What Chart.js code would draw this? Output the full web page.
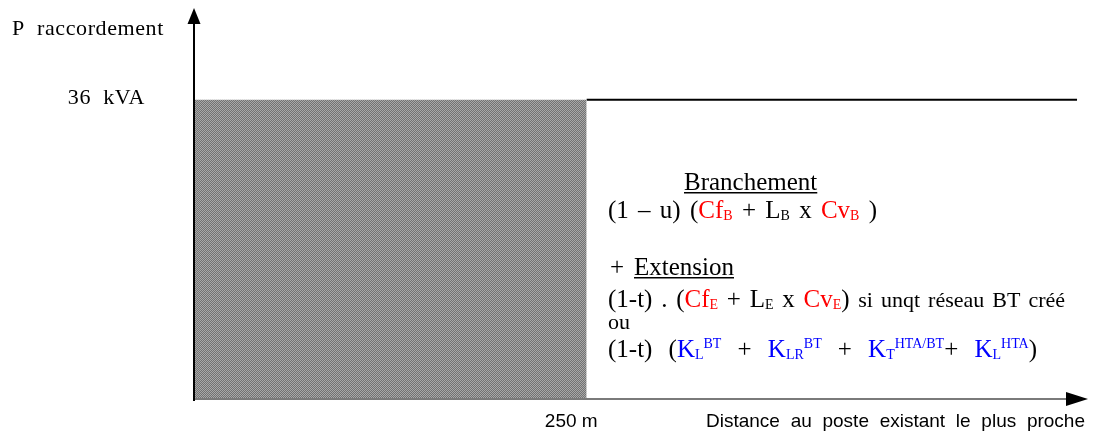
<!DOCTYPE html>
<html lang="fr">
<head>
  <meta charset="UTF-8">
  <title>P raccordement / distance au poste</title>
  <script src="https://cdn.jsdelivr.net/npm/chart.js"></script>
  <style>
    body { margin: 0; background: #fff; }
    #wrap { width: 1093px; height: 432px; }
  </style>
</head>
<body>
  <div id="wrap"><canvas id="chart" width="1093" height="432"></canvas></div>

  <script>
    // chart values
    const xMax = 570;            // m
    const yMax = 47;             // kVA
    const shadedX = [0, 250];
    const shadedY = [36, 36];
    const limitX = [250, 563];
    const limitY = [36, 36];
    const xTickValue = 250;
    const xTickLabel = '250 m';
    const yTickValue = 36;
    const yTickLabel = '36  kVA';
    const yTitle = 'P  raccordement';
    const xTitle = 'Distance au poste existant le plus proche';

    const RED = '#ff0000', BLUE = '#0000ff', BLACK = '#000000';
    const SERIF = '"Liberation Serif", "Times New Roman", serif';
    const SANS = '"Liberation Sans", Arial, sans-serif';

    // formula lines: [text, colour, mode]  mode: n / s (smaller) / sub / sup / u (underlined)
    const formulaLines = [
      { x: 684, dy: 90, segs: [['Branchement', BLACK, 'u']] },
      { x: 608, dy: 118, right: 877, segs: [
        ['(1 – u) (', BLACK], ['Cf', RED], ['B', RED, 'sub'], [' + L', BLACK], ['B', BLACK, 'sub'],
        [' x ', BLACK], ['Cv', RED], ['B', RED, 'sub'], [' )', BLACK]] },
      { x: 610, dy: 175, right: 734, segs: [['+ ', BLACK], ['Extension', BLACK, 'u']] },
      { x: 608, dy: 207, right: 1065, segs: [
        ['(1-t) . (', BLACK], ['Cf', RED], ['E', RED, 'sub'], [' + L', BLACK], ['E', BLACK, 'sub'],
        [' x ', BLACK], ['Cv', RED], ['E', RED, 'sub'], [') ', BLACK], ['si unqt réseau BT créé', BLACK, 's']] },
      { x: 608, dy: 229, segs: [['ou', BLACK, 's']] },
      { x: 608, dy: 257, right: 1037, segs: [
        ['(1-t) (', BLACK], ['K', BLUE], ['L', BLUE, 'sub'], ['BT', BLUE, 'sup'], [' + ', BLACK],
        ['K', BLUE], ['LR', BLUE, 'sub'], ['BT', BLUE, 'sup'], [' + ', BLACK],
        ['K', BLUE], ['T', BLUE, 'sub'], ['HTA/BT', BLUE, 'sup'], ['+ ', BLACK],
        ['K', BLUE], ['L', BLUE, 'sub'], ['HTA', BLUE, 'sup'], [')', BLACK]] }
    ];

    // dithered grey fill like the original picture
    function makePattern() {
      const c = document.createElement('canvas');
      c.width = 2; c.height = 2;
      const g = c.getContext('2d');
      g.fillStyle = '#727272'; g.fillRect(0, 0, 2, 2);
      g.fillStyle = '#a8a8a8'; g.fillRect(0, 0, 1, 1); g.fillRect(1, 1, 1, 1);
      return g.createPattern(c, 'repeat');
    }

    const SIZES = { n: 25, u: 25, s: 22, sub: 14, sup: 14 };

    function fontFor(mode) {
      return SIZES[mode] + 'px ' + SERIF;
    }

    // split segments into tokens so extra room can go into the spaces
    function tokens(segs) {
      const out = [];
      segs.forEach(([t, c, m]) => {
        t.split(/( )/).forEach(p => { if (p !== '') out.push({ t: p, c, m: m || 'n' }); });
      });
      return out;
    }

    function drawLine(ctx, line, top) {
      const toks = tokens(line.segs);
      let natural = 0, spaces = 0;
      toks.forEach(k => {
        ctx.font = fontFor(k.m);
        k.w = ctx.measureText(k.t).width;
        natural += k.w;
        if (k.t === ' ') spaces++;
      });
      const extra = line.right && spaces ? (line.right - line.x - natural) / spaces : 0;
      let x = line.x;
      const base = top + line.dy;
      toks.forEach(k => {
        ctx.font = fontFor(k.m);
        ctx.fillStyle = k.c;
        let y = base;
        if (k.m === 'sub') y = base + 2;
        if (k.m === 'sup') y = base - 9;
        ctx.fillText(k.t, x, y);
        if (k.m === 'u') ctx.fillRect(x, base + 2, k.w, 1.5);
        x += k.w + (k.t === ' ' ? extra : 0);
      });
    }

    const axesAndText = {
      id: 'axesAndText',
      afterDraw(chart) {
        const ctx = chart.ctx;
        const xs = chart.scales.x, ys = chart.scales.y;
        const x0 = xs.getPixelForValue(0) - 1;
        const y0 = ys.getPixelForValue(0) - 1;
        ctx.save();

        // x axis (grey) with black arrow
        ctx.strokeStyle = '#7a7a7a';
        ctx.lineWidth = 2;
        ctx.beginPath();
        ctx.moveTo(x0, y0); ctx.lineTo(xs.right - 20, y0);
        ctx.stroke();
        ctx.fillStyle = BLACK;
        ctx.beginPath();
        ctx.moveTo(xs.right, y0);
        ctx.lineTo(xs.right - 22, y0 - 7);
        ctx.lineTo(xs.right - 22, y0 + 7);
        ctx.closePath(); ctx.fill();

        // y axis (black) with arrow
        ctx.strokeStyle = BLACK;
        ctx.beginPath();
        ctx.moveTo(x0, y0 + 2); ctx.lineTo(x0, ys.top + 16);
        ctx.stroke();
        ctx.beginPath();
        ctx.moveTo(x0, ys.top);
        ctx.lineTo(x0 - 6.5, ys.top + 16);
        ctx.lineTo(x0 + 6.5, ys.top + 16);
        ctx.closePath(); ctx.fill();

        // axis labels
        ctx.fillStyle = BLACK;
        ctx.textBaseline = 'alphabetic';
        ctx.font = '22px ' + SERIF;
        ctx.letterSpacing = '0.6px';
        ctx.fillText(yTitle, 12, 35);
        ctx.textAlign = 'right';
        ctx.fillText(yTickLabel, 145, ys.getPixelForValue(yTickValue) + 4);
        ctx.letterSpacing = '0px';

        ctx.font = '19px ' + SANS;
        ctx.fillText(xTickLabel, xs.getPixelForValue(xTickValue) + 11, 427);
        const natural = ctx.measureText(xTitle).width;
        const gaps = xTitle.split(' ').length - 1;
        ctx.wordSpacing = ((1085 - 706 - natural) / gaps) + 'px';
        ctx.fillText(xTitle, 1085, 427);
        ctx.wordSpacing = '0px';

        // formula block
        ctx.textAlign = 'left';
        formulaLines.forEach(l => drawLine(ctx, l, 100));
        ctx.restore();
      }
    };

    const toPoints = (xs, ys) => xs.map((x, i) => ({ x, y: ys[i] }));

    new Chart(document.getElementById('chart'), {
      type: 'line',
      data: {
        datasets: [
          {
            data: toPoints(shadedX, shadedY),
            borderWidth: 0,
            pointRadius: 0,
            fill: 'origin',
            backgroundColor: makePattern()
          },
          {
            data: toPoints(limitX, limitY),
            borderColor: BLACK,
            borderWidth: 2,
            pointRadius: 0,
            fill: false
          }
        ]
      },
      plugins: [axesAndText],
      options: {
        responsive: false,
        animation: false,
        layout: { padding: { left: 195, right: 5, top: 8, bottom: 32 } },
        scales: {
          x: { type: 'linear', min: 0, max: xMax, display: false },
          y: { min: 0, max: yMax, display: false }
        },
        plugins: { legend: { display: false }, tooltip: { enabled: false } }
      }
    });
  </script>
</body>
</html>
